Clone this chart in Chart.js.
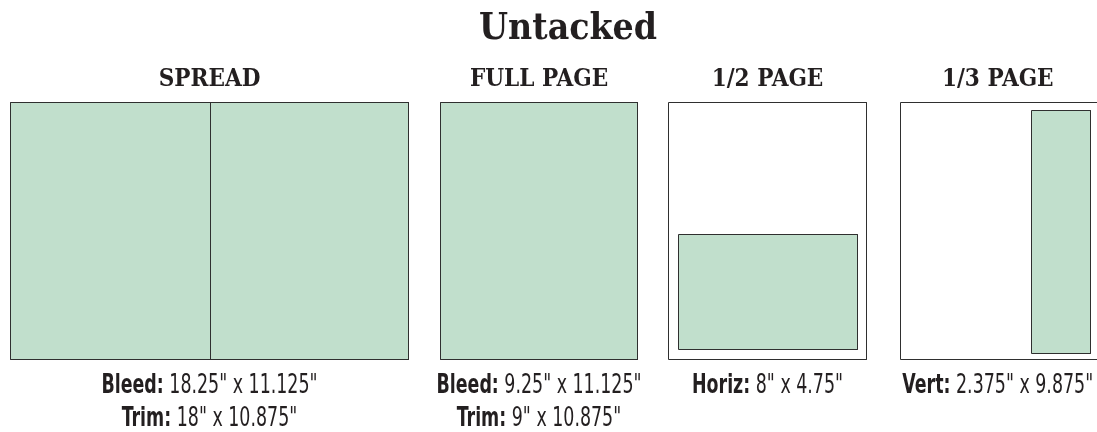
<!DOCTYPE html>
<html>
<head>
<meta charset="utf-8">
<script src="https://cdn.jsdelivr.net/npm/chart.js@4/dist/chart.umd.min.js"></script>
<style>
  html, body { margin: 0; padding: 0; background: #fff; }
  #wrap { width: 1097px; height: 432px; position: relative; }
</style>
</head>
<body>
<div id="wrap"><canvas id="sizes"></canvas></div>
<script>
// Ad formats, left to right
const title = 'Untacked';
const formats = ['SPREAD', 'FULL PAGE', '1/2 PAGE', '1/3 PAGE'];

// page outlines (chart units)
const pageLeft = [10.5, 440.5, 668.5, 900.5];
const pageRight = [408.5, 637.5, 866.5, 1104];
const pageTop = [102.5, 102.5, 102.5, 102.5];
const pageBottom = [359.5, 359.5, 359.5, 359.5];

// ad area inside each page
const adLeft = [10.5, 440.5, 678.5, 1031.5];
const adRight = [408.5, 637.5, 857.5, 1090.5];
const adTop = [102.5, 102.5, 234.5, 110.5];
const adBottom = [359.5, 359.5, 349.5, 353.5];

// fold line of the spread
const foldX = 210.5;

// captions under each format
const captionKeys = [['Bleed:', 'Trim:'], ['Bleed:', 'Trim:'], ['Horiz:'], ['Vert:']];
const captionValues = [
    ['18.25" x 11.125"', '18" x 10.875"'],
    ['9.25" x 11.125"', '9" x 10.875"'],
    ['8" x 4.75"'],
    ['2.375" x 9.875"']
];

const GREEN = '#c1dfcc';
const EDGE = '#2f2f2f';
const SLAB = '"DejaVu Serif Condensed", "DejaVu Serif", serif';
const SANS = '"DejaVu Sans Condensed", "DejaVu Sans", sans-serif';
const SQUEEZE = 0.745; // captions use a condensed face

function box(l, r, t, b) {
    return [{ x: l, y: t }, { x: r, y: t }, { x: r, y: b }, { x: l, y: b }, { x: l, y: t }];
}

// dataset 0 is painted last, so the fold goes first
const datasets = [{
    label: 'fold',
    data: [{ x: foldX, y: pageTop[0] }, { x: foldX, y: pageBottom[0] }],
    borderColor: EDGE,
    borderWidth: 1,
    fill: false
}];

formats.forEach((f, i) => {
    datasets.push({
        label: f + ' ad',
        data: box(adLeft[i], adRight[i], adTop[i], adBottom[i]),
        backgroundColor: GREEN,
        borderColor: EDGE,
        borderWidth: 1,
        fill: 'shape'
    });
});

formats.forEach((f, i) => {
    datasets.push({
        label: f + ' page',
        data: box(pageLeft[i], pageRight[i], pageTop[i], pageBottom[i]),
        backgroundColor: '#ffffff',
        borderColor: EDGE,
        borderWidth: 1,
        fill: 'shape'
    });
});

// headings and captions, centred on each page through the x scale
const labelsPlugin = {
    id: 'labels',
    afterDraw(chart) {
        const { ctx, scales: { x, y } } = chart;
        ctx.save();
        ctx.fillStyle = '#231f20';
        ctx.textBaseline = 'middle';
        ctx.textAlign = 'center';

        ctx.font = 'bold 37px ' + SLAB;
        ctx.fillText(title, x.getPixelForValue(568), y.getPixelForValue(29));

        formats.forEach((f, i) => {
            const cx = x.getPixelForValue((pageLeft[i] + Math.min(pageRight[i], 1095)) / 2);
            ctx.textAlign = 'center';
            ctx.font = 'bold 24px ' + SLAB;
            ctx.fillText(f, cx, y.getPixelForValue(80));

            captionKeys[i].forEach((key, row) => {
                const val = ' ' + captionValues[i][row];
                ctx.font = 'bold 26px ' + SANS;
                const wk = ctx.measureText(key).width;
                ctx.font = '26px ' + SANS;
                const wv = ctx.measureText(val).width;
                const cy = y.getPixelForValue(386 + row * 33);
                ctx.save();
                ctx.translate(cx, cy);
                ctx.scale(SQUEEZE, 1);
                const left = -(wk + wv) / 2;
                ctx.textAlign = 'left';
                ctx.font = 'bold 26px ' + SANS;
                ctx.fillText(key, left, 0);
                ctx.font = '26px ' + SANS;
                ctx.fillText(val, left + wk, 0);
                ctx.restore();
            });
        });
        ctx.restore();
    }
};

new Chart(document.getElementById('sizes'), {
    type: 'scatter',
    data: { datasets },
    options: {
        responsive: true,
        maintainAspectRatio: false,
        animation: false,
        showLine: true,
        layout: { padding: 0 },
        elements: {
            point: { radius: 0, hoverRadius: 0 },
            line: { tension: 0 }
        },
        plugins: {
            legend: { display: false },
            tooltip: { enabled: false }
        },
        scales: {
            x: { type: 'linear', min: 0, max: 1097, display: false },
            y: { type: 'linear', min: 0, max: 432, reverse: true, display: false }
        }
    },
    plugins: [labelsPlugin]
});
</script>
</body>
</html>
